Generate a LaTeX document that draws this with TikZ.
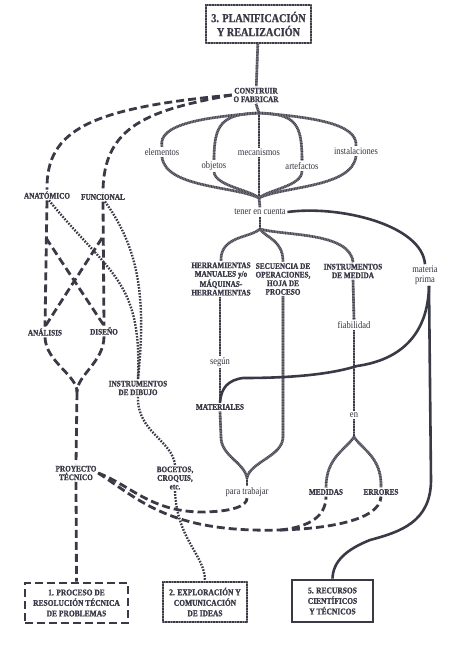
\documentclass[tikz,border=0pt]{standalone}
\usepackage{fontspec}
\newfontfamily\lbl[FakeStretch=0.85, BoldFeatures={FakeBold=1.2}]{Liberation Serif}
\definecolor{inkc}{HTML}{3A3A47}
\tikzset{
  dsh/.style={draw=inkc, line width=2.8pt, dash pattern=on 8pt off 4pt},
  hatch/.style={preaction={draw=inkc!65, line width=2.6pt, solid}, draw=inkc, line width=2.6pt, dash pattern=on 0.6pt off 1pt},
  dots/.style={draw=inkc, line width=2.4pt, dash pattern=on 1.6pt off 1.4pt},
  sol/.style={draw=inkc, line width=2.6pt},
  capl/.style={font=\lbl\bfseries\fontsize{8.5}{8.6}\selectfont, align=center, inner sep=1.5pt, text=inkc},
  lowl/.style={font=\lbl\fontsize{10}{9.5}\selectfont, align=center, inner sep=1.5pt, text=inkc!90!black},
  boxl/.style={font=\lbl\bfseries\fontsize{8.8}{10.5}\selectfont, align=center, inner sep=2pt, text=inkc},
}
\begin{document}
\begin{tikzpicture}[x=1pt,y=-1pt]
\useasboundingbox[fill=white] (0,0) rectangle (450,656);
% boxes
\node[boxl, font=\lbl\bfseries\fontsize{12}{14}\selectfont, hatch, minimum width=105pt, minimum height=38pt] (b3) at (258.5,24) {3. PLANIFICACIÓN\\Y REALIZACIÓN};
\node[boxl, dsh, minimum width=103pt, minimum height=40pt] (b1) at (76.5,603) {1. PROCESO DE\\RESOLUCIÓN TÉCNICA\\DE PROBLEMAS};
\node[boxl, hatch, minimum width=84pt, minimum height=40pt] (b2) at (205,602) {2. EXPLORACIÓN Y\\COMUNICACIÓN\\DE IDEAS};
\node[boxl, sol, line width=2.8pt, minimum width=81pt, minimum height=42pt] (b5) at (332.5,601) {5. RECURSOS\\CIENTÍFICOS\\Y TÉCNICOS};
% labels
\node[capl] (cons) at (256,95) {CONSTRUIR\\O FABRICAR};
\node[lowl] (elem) at (162,152) {elementos};
\node[lowl] (obj) at (214,166) {objetos};
\node[lowl] (mec) at (259,152) {mecanismos};
\node[lowl] (art) at (302,166) {artefactos};
\node[lowl] (inst) at (356,151) {instalaciones};
\node[lowl] (tec) at (260,212) {tener en cuenta};
\node[capl] (anat) at (47,195) {ANATÓMICO};
\node[capl] (func) at (103,197) {FUNCIONAL};
\node[capl] (anal) at (45,332) {ANÁLISIS};
\node[capl] (dis) at (104,331) {DISEÑO};
\node[capl] (idib) at (138,388) {INSTRUMENTOS\\DE DIBUJO};
\node[capl] (boc) at (175,478) {BOCETOS,\\CROQUIS,\\etc.};
\node[capl] (proy) at (76,473) {PROYECTO\\TÉCNICO};
\node[capl] (herr) at (221,279) {HERRAMIENTAS\\MANUALES y/o\\MÁQUINAS-\\HERRAMIENTAS};
\node[capl] (sec) at (283,279) {SECUENCIA DE\\OPERACIONES,\\HOJA DE\\PROCESO};
\node[capl] (imed) at (353,271) {INSTRUMENTOS\\DE MEDIDA};
\node[lowl] (mat) at (425,275) {materia\\prima};
\node[lowl] (seg) at (220,362) {según};
\node[lowl] (fia) at (354,325) {fiabilidad};
\node[lowl] (en) at (354,415) {en};
\node[capl] (mater) at (220,407) {MATERIALES};
\node[lowl] (para) at (247,492) {para trabajar};
\node[capl] (med) at (326,492) {MEDIDAS};
\node[capl] (err) at (381,492) {ERRORES};
% junctions
\coordinate (j1) at (259,113);
\coordinate (j2) at (259,198);
\coordinate (j3) at (260,229);
\coordinate (j4) at (247,478);
\coordinate (j5) at (354,437);
\coordinate (j6) at (77,392);
\coordinate (d1) at (46,238);
\coordinate (d2) at (102,238);
\coordinate (m1) at (280,530);
% hatched tree
\draw[hatch] (b3) -- (cons);
\draw[hatch] (cons.south) -- (j1);
\draw[hatch] (j1) .. controls (205,117) and (157,124) .. (elem.north);
\draw[hatch] (elem.south) .. controls (166,188) and (235,186) .. (j2);
\draw[hatch] (j1) .. controls (222,114) and (214,124) .. (obj.north);
\draw[hatch] (obj.south) .. controls (216,186) and (250,190) .. (j2);
\draw[hatch] (j1) -- (mec.north);
\draw[hatch] (mec.south) -- (j2);
\draw[hatch] (j1) .. controls (296,114) and (302,124) .. (art.north);
\draw[hatch] (art.south) .. controls (302,186) and (268,190) .. (j2);
\draw[hatch] (j1) .. controls (313,117) and (358,124) .. (inst.north);
\draw[hatch] (inst.south) .. controls (352,188) and (283,186) .. (j2);
\draw[hatch] (j2) -- (tec.north);
\draw[hatch] (tec.south) -- (j3);
\draw[hatch] (j3) .. controls (250,238) and (220,236) .. (herr.north);
\draw[hatch] (j3) .. controls (266,238) and (283,240) .. (sec.north);
\draw[hatch] (j3) .. controls (285,236) and (350,232) .. (imed.north);
\draw[hatch] (herr.south -| seg) -- (seg.north);
\draw[hatch] (seg.south) -- (mater.north);
\draw[hatch] (sec.south) -- (283,437) .. controls (283,456) and (250,462) .. (j4);
\draw[hatch] (mater.south) -- (221,437) .. controls (221,456) and (244,462) .. (j4);
\draw[hatch] (j4) -- (para.north);
\draw[hatch] (imed.south) -- (fia.north);
\draw[hatch] (fia.south) -- (en.north);
\draw[hatch] (en.south) -- (j5);
\draw[hatch] (j5) .. controls (345,450) and (326,458) .. (med.north);
\draw[hatch] (j5) .. controls (363,450) and (382,458) .. (err.north);
% solid
\draw[sol] (tec.east) .. controls (340,205) and (422,225) .. (mat.north);
\draw[sol] ([xshift=4pt]mat.south) -- (431,480) .. controls (431,522) and (400,532) .. (370,540) .. controls (345,550) and (333,562) .. (b5.north);
\draw[sol] ([xshift=4pt]mat.south) .. controls (428,335) and (400,360) .. (357,366) .. controls (325,376) and (280,378) .. (243,378) .. controls (228,380) and (221,388) .. (mater.north);
% dashed left
\draw[dsh] (cons.west) .. controls (90,108) and (46,130) .. (anat.north);
\draw[dsh] (cons.west) .. controls (150,110) and (103,125) .. (func.north);
\draw[dsh] (anat.south) -- (anal.north);
\draw[dsh] (func.south) -- (dis.north);
\draw[dsh] (d1) -- (dis.north);
\draw[dsh] (d2) -- (anal.north);
\draw[dsh] (anal.south) .. controls (46,362) and (77,375) .. (j6);
\draw[dsh] (dis.south) .. controls (104,362) and (77,375) .. (j6);
\draw[dsh] (j6) -- (proy.north);
\draw[dsh] (proy.south) -- (b1.north);
\draw[dsh] (proy.east) .. controls (130,485) and (150,511) .. (200,512) .. controls (232,512) and (247,506) .. (para.south);
\draw[dsh] (proy.east) .. controls (140,500) and (170,533) .. (m1);
\draw[dsh] (m1) .. controls (310,527) and (326,516) .. (med.south);
\draw[dsh] (m1) .. controls (320,529) and (380,522) .. (err.south);
% dotted
\draw[dots] ([xshift=2pt]anat.south) .. controls (110,275) and (142,280) .. (idib.north);
\draw[dots] ([xshift=2pt]func.south) .. controls (140,250) and (146,300) .. (idib.north);
\draw[dots] (idib.south) .. controls (137,432) and (172,440) .. (boc.north);
\draw[dots] (boc.south) .. controls (177,540) and (205,555) .. (b2.north);
\end{tikzpicture}
\end{document}
